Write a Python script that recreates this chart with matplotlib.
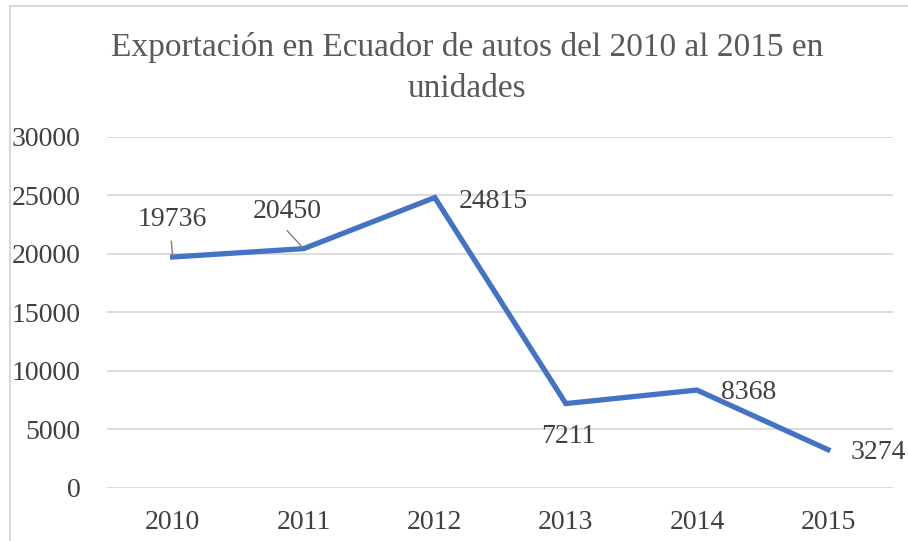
import matplotlib.pyplot as plt
from matplotlib.patches import Rectangle

# --- Datos
anios = ["2010", "2011", "2012", "2013", "2014", "2015"]
unidades = [19736, 20450, 24815, 7211, 8368, 3274]
yticks = [0, 5000, 10000, 15000, 20000, 25000, 30000]
titulo = "Exportación en Ecuador de autos del 2010 al 2015 en\nunidades"

plt.rcParams['font.family'] = ['Liberation Serif', 'DejaVu Serif']

fig = plt.figure(figsize = (9.08, 5.41), dpi = 100)
ax = fig.add_axes([0.118, 0.098, 0.866, 0.649])

# -- Marco del grafico
fig.patches.append(Rectangle((9.5 / 908, -0.1), 1.2, 1 - 6 / 541 + 0.1,
	transform = fig.transFigure, fill = False, edgecolor = "#d9d9d9", linewidth = 1.5))

xs = range(len(anios))
ax.plot(xs, unidades, color = "#4472c4", linewidth = 3.8, solid_joinstyle = "miter", zorder = 3)

ax.set_xlim(-0.5, len(anios) - 0.5)
ax.set_ylim(0, 30000)
ax.set_yticks(yticks)
ax.set_xticks(list(xs))
ax.set_xticklabels(anios)
ax.grid(axis = "y", color = "#d9d9d9", linewidth = 1.3)
ax.set_axisbelow(True)
for s in ax.spines.values():
	s.set_visible(False)
ax.tick_params(length = 0, labelsize = 20, labelcolor = "#404040")
ax.tick_params(axis = "x", pad = 16)
ax.tick_params(axis = "y", pad = 19)

# -- Etiquetas de datos (desplazamientos en puntos)
offsets = [(0, 27), (-12, 27), (42, -3), (1.5, -24), (37, -1.5), (36, -2)]
for i, (v, off) in enumerate(zip(unidades, offsets)):
	ax.annotate(str(v), (i, v), xytext = off, textcoords = "offset points",
		ha = "center", va = "center", fontsize = 20, color = "#404040")
# lineas guia para 2010 y 2011
ax.annotate("", (0, unidades[0]), xytext = (-1, 11.5), textcoords = "offset points",
	arrowprops = dict(arrowstyle = "-", color = "#808080", lw = 1, shrinkA = 0, shrinkB = 1))
ax.annotate("", (1, unidades[1]), xytext = (-12, 13), textcoords = "offset points",
	arrowprops = dict(arrowstyle = "-", color = "#808080", lw = 1, shrinkA = 0, shrinkB = 1))

fig.text(0.514, 0.875, titulo, ha = "center", va = "center", fontsize = 24,
	color = "#595959", linespacing = 1.45)

fig.savefig("out.png", dpi = 100)
